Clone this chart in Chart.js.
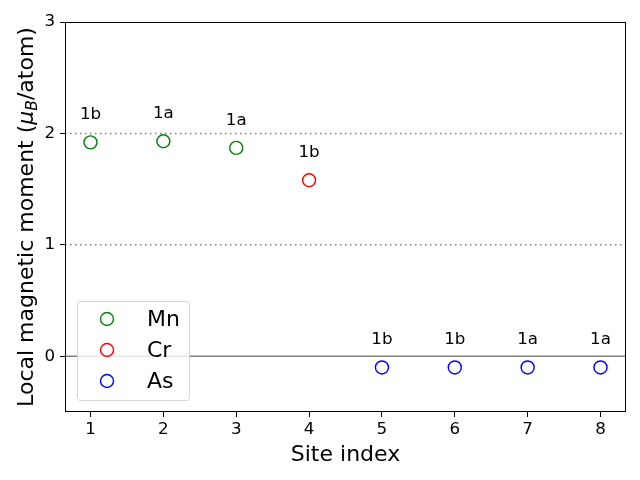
<!DOCTYPE html>
<html>
<head>
<meta charset="utf-8">
<script src="https://cdn.jsdelivr.net/npm/chart.js@4/dist/chart.umd.min.js"></script>
<style>
  html, body { margin: 0; padding: 0; background: #fff; }
  #wrap { width: 640px; height: 480px; }
</style>
</head>
<body>
<div id="wrap"><canvas id="chart" width="640" height="480"></canvas></div>
<script>
// data
const mnSites = [1, 2, 3];
const mnMoments = [1.92, 1.93, 1.87];
const crSites = [4];
const crMoments = [1.58];
const asSites = [5, 6, 7, 8];
const asMoments = [-0.10, -0.10, -0.10, -0.10];
const siteLabels = ["1b", "1a", "1a", "1b", "1b", "1b", "1a", "1a"];
const xTicks = [1, 2, 3, 4, 5, 6, 7, 8];
const yTicks = [0, 1, 2, 3];
const dottedLevels = [1, 2];
const solidLevels = [0];

const FONT = "'DejaVu Sans', sans-serif";

function toPoints(xs, ys) {
  return xs.map((x, i) => ({ x: x, y: ys[i] }));
}

const series = [
  { label: "Mn", color: "#008000", data: toPoints(mnSites, mnMoments) },
  { label: "Cr", color: "#ff0000", data: toPoints(crSites, crMoments) },
  { label: "As", color: "#0000ff", data: toPoints(asSites, asMoments) },
];

// reference lines, frame, site labels, legend and axis titles
const extras = {
  id: "extras",
  beforeDatasetsDraw(chart) {
    const { ctx, chartArea: a, scales: { y } } = chart;
    ctx.save();
    ctx.strokeStyle = "#808080";
    ctx.lineWidth = 1.5;
    ctx.setLineDash([1.5, 3.5]);
    dottedLevels.forEach(v => {
      const py = y.getPixelForValue(v);
      ctx.beginPath(); ctx.moveTo(a.left, py); ctx.lineTo(a.right, py); ctx.stroke();
    });
    ctx.setLineDash([]);
    solidLevels.forEach(v => {
      const py = y.getPixelForValue(v);
      ctx.beginPath(); ctx.moveTo(a.left, py); ctx.lineTo(a.right, py); ctx.stroke();
    });
    ctx.restore();
  },
  afterDatasetsDraw(chart) {
    const { ctx, chartArea: a, scales: { x, y } } = chart;
    ctx.save();

    // site labels above each point
    const all = [].concat(...series.map(s => s.data));
    ctx.fillStyle = "#000";
    ctx.font = "16.7px " + FONT;
    ctx.textAlign = "center";
    ctx.textBaseline = "alphabetic";
    all.forEach((p, i) => {
      ctx.fillText(siteLabels[i], x.getPixelForValue(p.x), y.getPixelForValue(p.y + 0.2) - 1);
    });

    // frame
    ctx.strokeStyle = "#000";
    ctx.lineWidth = 1;
    ctx.strokeRect(a.left + 0.5, a.top + 0.5, a.right - a.left - 1, a.bottom - a.top - 1);

    // legend
    const lx = 77, ly = 301, lw = 112, lh = 99;
    ctx.fillStyle = "rgba(255,255,255,0.8)";
    ctx.strokeStyle = "#d5d5d5";
    ctx.lineWidth = 1;
    ctx.beginPath();
    ctx.roundRect(lx + 0.5, ly + 0.5, lw, lh, 3);
    ctx.fill(); ctx.stroke();
    ctx.font = "22px " + FONT;
    ctx.textAlign = "left";
    ctx.textBaseline = "middle";
    series.forEach((s, i) => {
      const cy = 319 + i * 31;
      ctx.strokeStyle = s.color;
      ctx.lineWidth = 1.4;
      ctx.beginPath(); ctx.arc(107, cy, 6.5, 0, Math.PI * 2); ctx.stroke();
      ctx.fillStyle = "#000";
      ctx.fillText(s.label, 147, cy + 1);
    });

    // x title
    ctx.font = "22px " + FONT;
    ctx.textAlign = "center";
    ctx.textBaseline = "alphabetic";
    ctx.fillText("Site index", (a.left + a.right) / 2, 461);

    // y title with mu_B
    const parts = [
      { t: "Local magnetic moment (", f: "22px " + FONT, dy: 0 },
      { t: "\u03bc", f: "italic 22px " + FONT, dy: 0 },
      { t: "B", f: "italic 15.5px " + FONT, dy: 4 },
      { t: "/atom)", f: "22px " + FONT, dy: 0 },
    ];
    let total = 0;
    parts.forEach(p => { ctx.font = p.f; p.w = ctx.measureText(p.t).width; total += p.w; });
    ctx.textAlign = "left";
    ctx.translate(33, (a.top + a.bottom) / 2);
    ctx.rotate(-Math.PI / 2);
    let cx = -total / 2;
    parts.forEach(p => {
      ctx.font = p.f;
      ctx.fillText(p.t, cx, p.dy);
      cx += p.w;
    });
    ctx.restore();
  }
};

const config = {
  type: "scatter",
  data: {
    datasets: series.map(s => ({
      label: s.label,
      data: s.data,
      borderColor: s.color,
      backgroundColor: "rgba(0,0,0,0)",
      pointRadius: 6.5,
      pointHoverRadius: 6.5,
      borderWidth: 1.4,
      pointStyle: "circle",
    })),
  },
  options: {
    responsive: false,
    animation: false,
    devicePixelRatio: 1,
    layout: { padding: { top: 22, right: 14, left: 0, bottom: 0 } },
    plugins: {
      legend: { display: false },
      tooltip: { enabled: false },
    },
    scales: {
      x: {
        type: "linear",
        min: 0.65,
        max: 8.35,
        afterBuildTicks: s => { s.ticks = xTicks.map(v => ({ value: v })); },
        afterFit: s => { s.height = 68; },
        grid: { drawOnChartArea: false, drawTicks: true, tickLength: 5, tickColor: "#000" },
        border: { display: false },
        ticks: { color: "#000", font: { family: FONT, size: 16.7 }, padding: 3, maxRotation: 0 },
      },
      y: {
        type: "linear",
        min: -0.5,
        max: 3,
        afterBuildTicks: s => { s.ticks = yTicks.map(v => ({ value: v })); },
        afterFit: s => { s.width = 65; },
        grid: { drawOnChartArea: false, drawTicks: true, tickLength: 5, tickColor: "#000" },
        border: { display: false },
        ticks: { color: "#000", font: { family: FONT, size: 16.7 }, padding: 5 },
      },
    },
  },
  plugins: [extras],
};

new Chart(document.getElementById("chart").getContext("2d"), config);
</script>
</body>
</html>
